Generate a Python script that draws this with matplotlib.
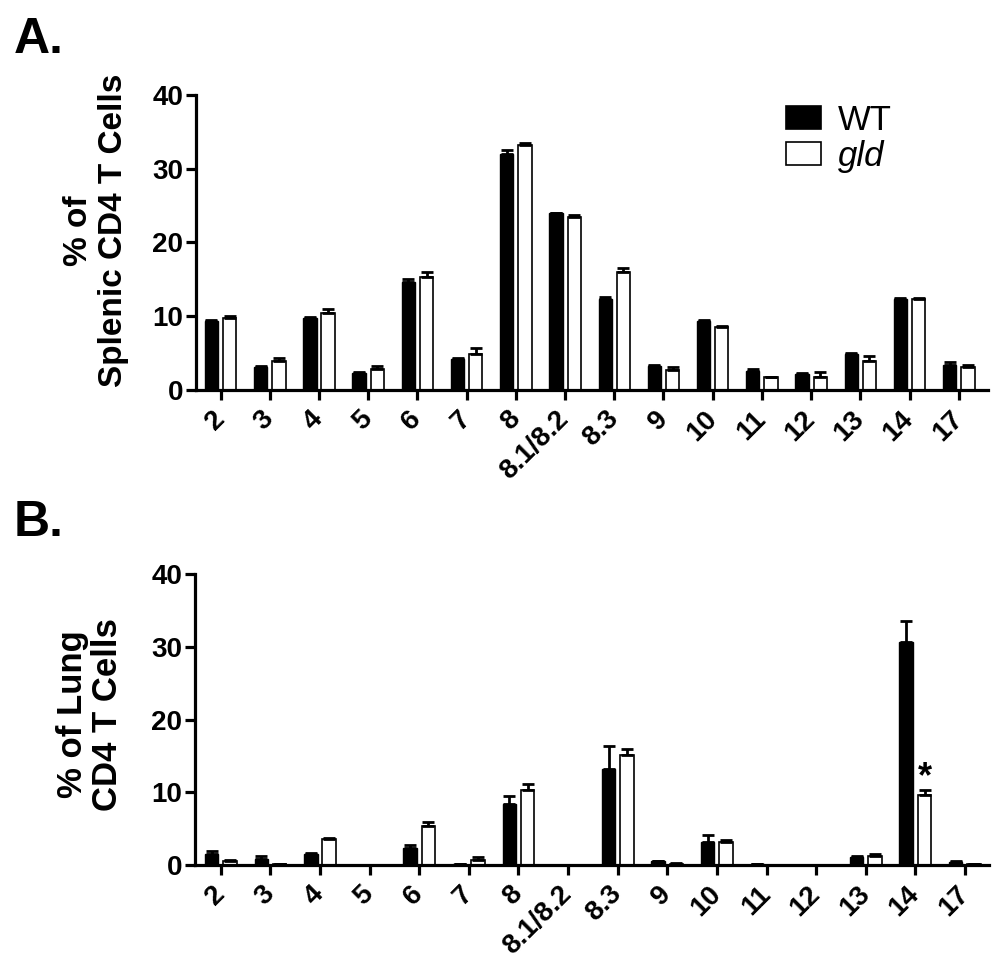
#!/usr/bin/env python3
"""TCR V-beta usage of CD4 T cells, WT vs gld, spleen (A) and lung (B)."""
import matplotlib
matplotlib.use("Agg")
import matplotlib.pyplot as plt
from matplotlib.patches import Patch
import numpy as np

plt.rcParams["font.family"] = ["Liberation Sans", "DejaVu Sans"]

cats = ["2", "3", "4", "5", "6", "7", "8", "8.1/8.2", "8.3", "9", "10",
        "11", "12", "13", "14", "17"]

# panel A: spleen
spl_wt = [9.3, 3.1, 9.7, 2.3, 14.7, 4.2, 32.0, 24.0, 12.3, 3.3, 9.4, 2.6, 2.2, 4.9, 12.3, 3.4]
spl_wt_err = [0.2, 0.1, 0.2, 0.1, 0.3, 0.2, 0.5, 0.0, 0.3, 0.1, 0.1, 0.3, 0.1, 0.1, 0.2, 0.4]
spl_gld = [9.8, 4.0, 10.4, 2.9, 15.3, 4.9, 33.2, 23.4, 16.0, 2.7, 8.6, 1.7, 1.8, 4.0, 12.3, 3.1]
spl_gld_err = [0.2, 0.4, 0.6, 0.4, 0.7, 0.8, 0.3, 0.3, 0.5, 0.4, 0.1, 0.1, 0.6, 0.6, 0.2, 0.3]

# panel B: lung
lung_wt = [1.5, 0.8, 1.5, 0.0, 2.4, 0.2, 8.4, 0.0, 13.2, 0.5, 3.2, 0.1, 0.0, 1.1, 30.7, 0.4]
lung_wt_err = [0.4, 0.5, 0.1, 0.0, 0.4, 0.0, 1.1, 0.0, 3.1, 0.1, 0.9, 0.0, 0.0, 0.2, 2.9, 0.2]
lung_gld = [0.6, 0.1, 3.6, 0.0, 5.3, 0.7, 10.3, 0.0, 15.1, 0.2, 3.2, 0.0, 0.0, 1.3, 9.6, 0.1]
lung_gld_err = [0.1, 0.0, 0.1, 0.0, 0.6, 0.4, 0.8, 0.0, 0.8, 0.1, 0.3, 0.0, 0.0, 0.2, 0.7, 0.0]

x = np.arange(len(cats))
w, off = 0.27, 0.185

fig = plt.figure(figsize=(10.01, 9.77), dpi=100)
axA = fig.add_axes([0.1958, 0.6008, 0.791, 0.302])
axB = fig.add_axes([0.1948, 0.1146, 0.7935, 0.2979])


def panel(ax, wt, wt_err, gld, gld_err, xlim):
    ax.bar(x - off, wt, w, color="black", edgecolor="black", lw=1.0, zorder=2)
    ax.bar(x + off, gld, w, color="white", edgecolor="black", lw=1.2, zorder=2)
    z = np.zeros(len(x))
    ax.errorbar(x - off, wt, yerr=[z, wt_err], fmt="none", ecolor="black",
                elinewidth=2, capsize=4.5, capthick=2, zorder=3)
    ax.errorbar(x + off, gld, yerr=[z, gld_err], fmt="none", ecolor="black",
                elinewidth=2, capsize=4.5, capthick=2, zorder=3)
    ax.set_xlim(*xlim)
    ax.set_ylim(0, 40)
    ax.set_yticks([0, 10, 20, 30, 40])
    ax.set_xticks(x)
    ax.set_xticklabels(cats, rotation=45, ha="right", va="center",
                       rotation_mode="anchor", fontsize=20, fontweight="bold")
    for lab in ax.get_yticklabels():
        lab.set_fontsize(20)
        lab.set_fontweight("bold")
    for s in ("top", "right"):
        ax.spines[s].set_visible(False)
    for s in ("left", "bottom"):
        ax.spines[s].set_linewidth(2.3)
    ax.tick_params(width=2.3, length=7, pad=2)
    ax.tick_params(axis="x", pad=11)


panel(axA, spl_wt, spl_wt_err, spl_gld, spl_gld_err, (-0.5, 15.59))
panel(axB, lung_wt, lung_wt_err, lung_gld, lung_gld_err, (-0.52, 15.49))

# significance mark over gld V-beta 14 in lung
i14 = cats.index("14")
axB.text(x[i14] + off, lung_gld[i14] + lung_gld_err[i14] - 0.7, "*",
         ha="center", va="bottom", fontsize=26, fontweight="bold")

# legend
h = [Patch(facecolor="black", edgecolor="black", lw=1.2),
     Patch(facecolor="white", edgecolor="black", lw=1.2)]
leg = axA.legend(h, ["WT", "gld"], loc="upper left", bbox_to_anchor=(0.745, 0.97),
                 frameon=False, fontsize=25, handlelength=1.0, handleheight=0.65,
                 handletextpad=0.5, labelspacing=0.08, borderpad=0, borderaxespad=0)
leg.get_texts()[1].set_fontstyle("italic")

fig.text(0.096, 0.764, "% of\nSplenic CD4 T Cells", rotation=90, ha="center",
         va="center", fontsize=24, fontweight="bold", multialignment="center",
         linespacing=1.15)
fig.text(0.090, 0.269, "% of Lung\nCD4 T Cells", rotation=90, ha="center",
         va="center", fontsize=25, fontweight="bold", multialignment="center",
         linespacing=1.1)
fig.text(0.014, 0.959, "A.", fontsize=36, fontweight="bold", ha="left", va="center")
fig.text(0.014, 0.4647, "B.", fontsize=36, fontweight="bold", ha="left", va="center")

fig.savefig("out.png", dpi=100)
